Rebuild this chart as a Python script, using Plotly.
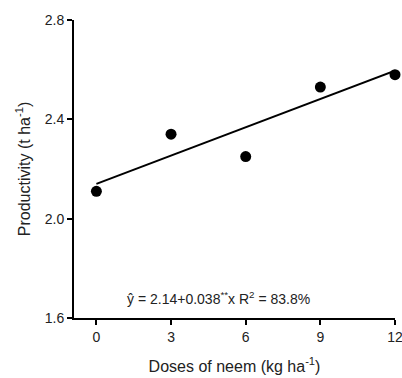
import plotly.graph_objects as go

doses = [0, 3, 6, 9, 12]
productivity = [2.11, 2.34, 2.25, 2.53, 2.58]
intercept = 2.14
slope = 0.038
x_ticks = [0, 3, 6, 9, 12]
y_ticks = [1.6, 2.0, 2.4, 2.8]

fit_x = [doses[0], doses[-1]]
fit_y = [intercept + slope * v for v in fit_x]

fig = go.Figure()
fig.add_trace(go.Scatter(x=fit_x, y=fit_y, mode="lines",
                         line=dict(color="black", width=2), showlegend=False,
                         cliponaxis=False))
fig.add_trace(go.Scatter(x=doses, y=productivity, mode="markers",
                         marker=dict(color="black", size=11), showlegend=False,
                         cliponaxis=False))

font = "Liberation Sans, Arial, sans-serif"
fig.update_layout(
    width=402, height=378,
    margin=dict(l=74, r=7, t=20, b=60),
    paper_bgcolor="white", plot_bgcolor="white",
    font=dict(family=font, color="#222", size=14),
    xaxis=dict(range=[-0.9, 12.0], tickvals=x_ticks, ticks="outside", ticklen=5,
               tickwidth=1.5, tickcolor="black", showline=True, linecolor="black",
               linewidth=2, showgrid=False, zeroline=False, automargin=False,
               ticklabeloverflow="allow",
               title=dict(text="Doses of neem (kg ha<sup>-1</sup>)", font=dict(size=16), standoff=17)),
    yaxis=dict(range=[1.6, 2.8], tickvals=y_ticks, tickformat=".1f", ticks="outside", ticklen=5,
               tickwidth=1.5, tickcolor="black", showline=True, linecolor="black",
               linewidth=2, showgrid=False, zeroline=False,
               title=dict(text="Productivity (t ha<sup>-1</sup>)", font=dict(size=16), standoff=10)),
)
fig.add_annotation(x=4.9, y=1.68, xref="x", yref="y", showarrow=False,
                   text="ŷ = 2.14+0.038<sup>**</sup>x R<sup>2</sup> = 83.8%",
                   font=dict(size=14, family=font, color="#222"))
fig.write_html("out.html")
